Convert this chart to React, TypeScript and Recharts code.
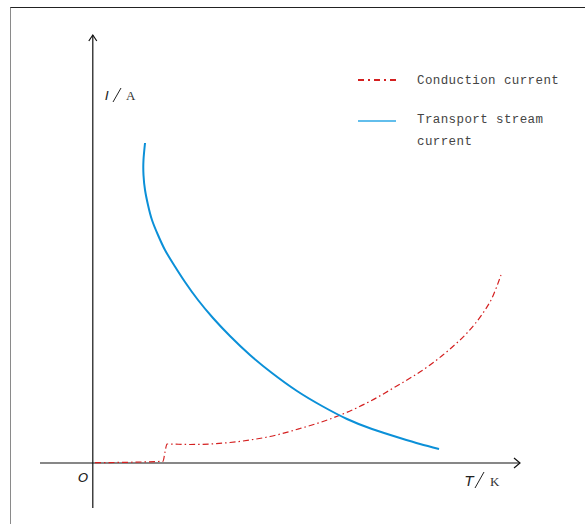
import React from "react";
import { LineChart, Line, XAxis, YAxis, ReferenceLine, Customized } from "recharts";

// Transport stream current (T, I) in arbitrary units
const transportT = [10.88, 10.56, 10.56, 10.88, 11.5, 12.33, 13.58, 15.04, 16.92, 19.21, 21.92, 25.04, 28.58, 32.75, 37.33, 42.54, 47.75, 52.96, 58.17, 64.0, 68.17, 72.13];
const transportI = [64.0, 60.6, 57.6, 54.6, 51.6, 48.6, 45.6, 42.6, 39.6, 36.2, 32.6, 29.0, 25.4, 21.6, 18.0, 14.4, 11.4, 8.8, 6.8, 5.0, 3.8, 2.8];

// Conduction current (T, I)
const conductionT = [0.46, 14.63, 15.04, 15.46, 20.25, 24.42, 28.58, 32.75, 36.92, 43.17, 50.0, 56.67, 63.33, 70.25, 74.42, 77.96, 81.29, 83.17, 85.04];
const conductionI = [0.06, 0.34, 2.2, 3.8, 3.7, 3.8, 4.1, 4.6, 5.3, 6.9, 9.0, 11.8, 15.4, 19.6, 22.8, 26.0, 30.0, 33.0, 37.6];

const legendLabels = ["Conduction current", "Transport stream", "current"];

const transportData = transportT.map((t, i) => ({ t, v: transportI[i] }));
const conductionData = conductionT.map((t, i) => ({ t, v: conductionI[i] }));

const W = 585;
const H = 524;
const MONO = "'Liberation Mono', 'DejaVu Sans Mono', monospace";

const HAxisShape = (p: any) => {
  const xa = Math.min(p.x1, p.x2);
  const xb = Math.max(p.x1, p.x2);
  const y = p.y1;
  return (
    <g>
      <line x1={xa} y1={y} x2={xb} y2={y} stroke="#111" strokeWidth={1.2} />
      <polyline points={`${xb - 6},${y - 5} ${xb},${y} ${xb - 6},${y + 5}`} fill="none" stroke="#111" strokeWidth={1.2} />
    </g>
  );
};

const VAxisShape = (p: any) => {
  const ya = Math.min(p.y1, p.y2);
  const yb = Math.max(p.y1, p.y2);
  const x = p.x1;
  return (
    <g>
      <line x1={x} y1={ya} x2={x} y2={yb} stroke="#111" strokeWidth={1.2} />
      <polyline points={`${x - 4},${ya + 6} ${x},${ya} ${x + 4},${ya + 6}`} fill="none" stroke="#111" strokeWidth={1.2} />
    </g>
  );
};

const Overlay = () => (
  <g>
    {/* axis labels */}
    <text x={105} y={100} fontFamily="'DejaVu Sans', sans-serif" fontStyle="italic" fontSize={13} fill="#222">I</text>
    <line x1={113} y1={102} x2={121} y2={88} stroke="#222" strokeWidth={1} />
    <text x={126} y={100} fontFamily="'Liberation Serif', serif" fontSize={13} fill="#333">A</text>

    <text x={465} y={486} fontFamily="'DejaVu Sans', sans-serif" fontStyle="italic" fontSize={14} fill="#222">T</text>
    <line x1={475} y1={488} x2={484} y2={472} stroke="#222" strokeWidth={1} />
    <text x={490} y={486} fontFamily="'Liberation Serif', serif" fontSize={13} fill="#333">K</text>

    <text x={78} y={482} fontFamily="'DejaVu Sans', sans-serif" fontStyle="italic" fontSize={13} fill="#222">O</text>

    {/* legend */}
    <line x1={358} y1={80} x2={397} y2={80} stroke="#d42020" strokeWidth={2} strokeDasharray="6 4 2 4" />
    <text x={417} y={84} fontFamily={MONO} fontSize={12.5} letterSpacing={0.4} fill="#444">{legendLabels[0]}</text>
    <line x1={358} y1={121} x2={396} y2={121} stroke="#2ea8e6" strokeWidth={1.6} />
    <text x={417} y={123} fontFamily={MONO} fontSize={12.5} letterSpacing={0.4} fill="#444">{legendLabels[1]}</text>
    <text x={417} y={145} fontFamily={MONO} fontSize={12.5} letterSpacing={0.4} fill="#444">{legendLabels[2]}</text>
  </g>
);

export default function App() {
  return (
    <div style={{ position: "absolute", left: 0, top: 0, width: W, height: H, background: "#fff" }}>
      <div
        style={{
          position: "absolute",
          left: 10,
          top: 7,
          width: W - 10,
          height: H - 7,
          borderLeft: "1px solid #8a8a8a",
          borderTop: "1px solid #222",
          boxSizing: "border-box",
        }}
      />
      <div style={{ position: "absolute", left: 0, top: 0 }}>
        <LineChart width={W} height={H} margin={{ left: 40, right: 65, top: 35, bottom: 16 }}>
          <XAxis type="number" dataKey="t" domain={[-11, 89]} hide allowDataOverflow />
          <YAxis type="number" dataKey="v" domain={[-9, 85.6]} hide allowDataOverflow />
          <ReferenceLine y={0} shape={HAxisShape} ifOverflow="visible" />
          <ReferenceLine x={0} shape={VAxisShape} ifOverflow="visible" />
          <Line
            data={conductionData}
            dataKey="v"
            type="monotone"
            stroke="#d42020"
            strokeWidth={1.2}
            strokeDasharray="6 3 1.5 3"
            dot={false}
            isAnimationActive={false}
          />
          <Line
            data={transportData}
            dataKey="v"
            type="natural"
            stroke="#0b90d8"
            strokeWidth={2}
            dot={false}
            isAnimationActive={false}
          />
          <Customized component={Overlay} />
        </LineChart>
      </div>
    </div>
  );
}
